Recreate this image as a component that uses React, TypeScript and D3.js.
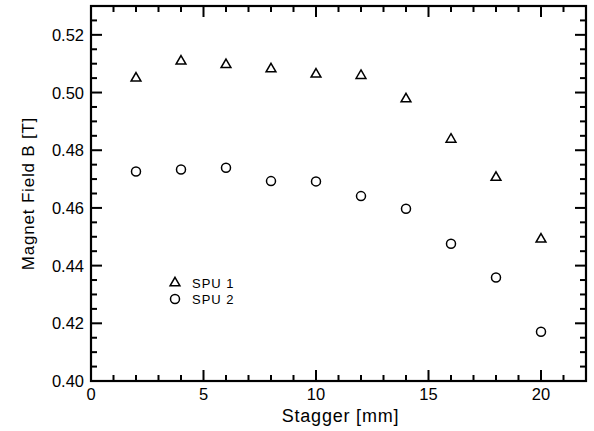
import React from "react";
import * as d3 from "d3";

// Stagger gap [mm] and peak field [T] for the two undulator prototypes
const stagger = [2, 4, 6, 8, 10, 12, 14, 16, 18, 20];
const spu1 = [0.5053, 0.5112, 0.5100, 0.5085, 0.5067, 0.5062, 0.4981, 0.4841, 0.4709, 0.4495];
const spu2 = [0.4726, 0.4733, 0.4739, 0.4693, 0.4692, 0.4641, 0.4597, 0.4476, 0.4359, 0.4171];
const xTicks = [0, 5, 10, 15, 20];
const yTicks = [0.40, 0.42, 0.44, 0.46, 0.48, 0.50, 0.52];
const seriesNames = ["SPU 1", "SPU 2"];

const W = 594;
const H = 431;
const left = 91, right = 586, top = 6, bottom = 381;
const FONT = "'Liberation Sans', Arial, sans-serif";
const TW = 2; // tick thickness

export default function App() {
  const x = d3.scaleLinear().domain([0, 22]).range([left, right]);
  const y = d3.scaleLinear().domain([0.40, 0.53]).range([bottom, top]);
  const xMinor = d3.range(0, 23, 1);
  const yMinor = d3.range(0, 27, 1).map((k) => 0.40 + k * 0.005);
  const tri = d3.symbol().type(d3.symbolTriangle).size(42)();

  return (
    <svg width={W} height={H} style={{ position: "absolute", left: 0, top: 0 }}>
      <rect
        x={left}
        y={top}
        width={right - left}
        height={bottom - top}
        fill="none"
        stroke="#000"
        strokeWidth={2.2}
      />
      {/* inward ticks on all four sides: long at labelled values, short otherwise */}
      <g fill="#000">
        {xMinor.map((v) => {
          const len = v % 5 === 0 ? 11 : 6;
          return (
            <React.Fragment key={"xt" + v}>
              <rect x={x(v) - TW / 2} y={bottom - len} width={TW} height={len} />
              <rect x={x(v) - TW / 2} y={top} width={TW} height={len} />
            </React.Fragment>
          );
        })}
        {yMinor.map((v, k) => {
          const len = k % 4 === 0 ? 11 : 6;
          return (
            <React.Fragment key={"yt" + k}>
              <rect x={left} y={y(v) - TW / 2} width={len} height={TW} />
              <rect x={right - len} y={y(v) - TW / 2} width={len} height={TW} />
            </React.Fragment>
          );
        })}
      </g>
      {/* data */}
      <g fill="none" stroke="#000" strokeWidth={1.5}>
        {stagger.map((s, i) => (
          <path key={"t" + s} d={tri} transform={`translate(${x(s)},${y(spu1[i]) + 1})`} />
        ))}
        {stagger.map((s, i) => (
          <circle key={"c" + s} cx={x(s)} cy={y(spu2[i])} r={4.5} />
        ))}
      </g>
      {/* tick labels */}
      <g fontSize={16.5} fill="#000" fontFamily={FONT}>
        {xTicks.map((v) => (
          <text key={"xl" + v} x={x(v)} y={bottom + 19} textAnchor="middle">
            {v}
          </text>
        ))}
        {yTicks.map((v) => (
          <text key={"yl" + v} x={left - 7} y={y(v) + 6} textAnchor="end">
            {v.toFixed(2)}
          </text>
        ))}
      </g>
      {/* axis titles */}
      <text x={(left + right) / 2 + 2} y={422} textAnchor="middle" fontSize={18} letterSpacing={0.8} fontFamily={FONT}>
        Stagger [mm]
      </text>
      <text
        transform={`translate(34, ${(top + bottom) / 2}) rotate(-90)`}
        textAnchor="middle"
        fontSize={17}
        letterSpacing={0.8}
        fontFamily={FONT}
      >
        Magnet Field B [T]
      </text>
      {/* legend */}
      <g fontFamily={FONT}>
        <path d={tri} transform="translate(175,283)" fill="none" stroke="#000" strokeWidth={1.5} />
        <circle cx={175} cy={299} r={4.5} fill="none" stroke="#000" strokeWidth={1.5} />
        <text x={192} y={288} fontSize={13} letterSpacing={1}>{seriesNames[0]}</text>
        <text x={192} y={304} fontSize={13} letterSpacing={1}>{seriesNames[1]}</text>
      </g>
    </svg>
  );
}
